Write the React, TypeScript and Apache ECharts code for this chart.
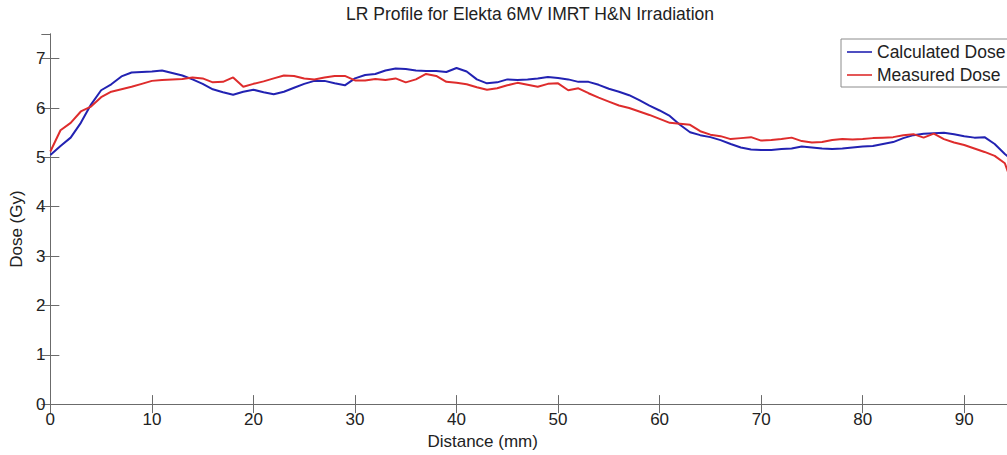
import React, { useEffect, useRef } from "react";
import * as echarts from "echarts";

const distanceMm = [
  0, 1, 2, 3, 4, 5, 6, 7, 8, 9, 10, 11, 12, 13, 14, 15, 16, 17, 18, 19, 20, 21, 22, 23, 24, 25, 26, 27, 28, 29,
  30, 31, 32, 33, 34, 35, 36, 37, 38, 39, 40, 41, 42, 43, 44, 45, 46, 47, 48, 49, 50, 51, 52, 53, 54, 55, 56, 57, 58, 59,
  60, 61, 62, 63, 64, 65, 66, 67, 68, 69, 70, 71, 72, 73, 74, 75, 76, 77, 78, 79, 80, 81, 82, 83, 84, 85, 86, 87, 88, 89,
  90, 91, 92, 93, 94, 95,
];

const calculatedDose = [
  5.05, 5.23, 5.4, 5.7, 6.07, 6.36, 6.48, 6.64, 6.72, 6.73, 6.74, 6.76, 6.71, 6.66, 6.58, 6.49, 6.38, 6.32, 6.27, 6.33,
  6.37, 6.32, 6.28, 6.33, 6.41, 6.49, 6.55, 6.55, 6.5, 6.46, 6.6, 6.67, 6.69, 6.76, 6.8, 6.79, 6.76, 6.75, 6.75, 6.73,
  6.81, 6.74, 6.58, 6.5, 6.52, 6.58, 6.57, 6.58, 6.6, 6.63, 6.61, 6.58, 6.53, 6.53, 6.47, 6.39, 6.33, 6.26, 6.16, 6.05,
  5.95, 5.84, 5.66, 5.51, 5.45, 5.41, 5.35, 5.27, 5.2, 5.16, 5.15, 5.15, 5.17, 5.18, 5.22, 5.2, 5.18, 5.17, 5.18, 5.2,
  5.22, 5.23, 5.27, 5.31, 5.39, 5.45, 5.48, 5.49, 5.5, 5.47, 5.43, 5.4, 5.41, 5.27, 5.07, 4.9,
];

const measuredDose = [
  5.12, 5.55, 5.7, 5.93, 6.03, 6.22, 6.33, 6.38, 6.43, 6.49, 6.55, 6.57, 6.58, 6.59, 6.62, 6.6, 6.52, 6.53, 6.62, 6.43,
  6.49, 6.54, 6.6, 6.66, 6.65, 6.6, 6.58, 6.62, 6.65, 6.65, 6.56, 6.56, 6.59, 6.57, 6.6, 6.52, 6.58, 6.69, 6.65, 6.53,
  6.51, 6.48, 6.42, 6.37, 6.4, 6.46, 6.51, 6.47, 6.43, 6.49, 6.5, 6.36, 6.4, 6.3, 6.21, 6.13, 6.05, 6.0, 5.93, 5.86,
  5.78, 5.7, 5.68, 5.66, 5.53, 5.46, 5.43, 5.37, 5.39, 5.41, 5.34, 5.35, 5.37, 5.4, 5.33, 5.3, 5.31, 5.35, 5.37, 5.36,
  5.37, 5.39, 5.4, 5.41, 5.45, 5.47, 5.4, 5.48, 5.37, 5.3, 5.25, 5.18, 5.11, 5.03, 4.88, 4.3,
];

const seriesNames = ["Calculated Dose", "Measured Dose"];
const seriesColors = ["#2222b2", "#de2c2c"];
const chartTitle = "LR Profile for Elekta 6MV IMRT H&N Irradiation";
const xAxisName = "Distance (mm)";
const yAxisName = "Dose (Gy)";

const FONT = "'Liberation Sans', Arial, Helvetica, sans-serif";
const AXIS_COLOR = "#6b6b6b";
const TEXT_COLOR = "#222222";

export default function App() {
  const ref = useRef<HTMLDivElement>(null);

  useEffect(() => {
    if (!ref.current) return;
    const chart = echarts.init(ref.current, null, { renderer: "svg" });
    const tickCommon = { show: true, inside: true, length: 9, lineStyle: { color: AXIS_COLOR, width: 1 } };
    chart.setOption({
      animation: false,
      backgroundColor: "#ffffff",
      textStyle: { fontFamily: FONT },
      title: {
        text: chartTitle,
        left: 530,
        top: 5,
        padding: 0,
        textAlign: "center",
        textStyle: { fontFamily: FONT, fontSize: 17.5, fontWeight: "normal", color: TEXT_COLOR },
      },
      legend: {
        data: seriesNames.map((n) => ({ name: n, icon: "rect" })),
        orient: "vertical",
        left: 841,
        top: 39,
        padding: [3, 20, 2, 6],
        itemWidth: 25,
        itemHeight: 1.6,
        itemGap: 3,
        borderColor: "#8c8c8c",
        borderWidth: 1,
        borderRadius: 0,
        backgroundColor: "#ffffff",
        textStyle: { fontFamily: FONT, fontSize: 17.5, lineHeight: 20, color: TEXT_COLOR },
      },
      grid: { left: 47, top: 34, right: 0, bottom: 45, containLabel: false },
      xAxis: [
        {
          type: "value",
          position: "bottom",
          min: 0,
          max: 95,
          interval: 10,
          name: xAxisName,
          nameLocation: "middle",
          nameGap: 17,
          nameTextStyle: { fontFamily: FONT, fontSize: 17, color: TEXT_COLOR, padding: [0, 100, 0, 0] },
          axisLine: { show: true, lineStyle: { color: AXIS_COLOR, width: 1 } },
          axisTick: tickCommon,
          axisLabel: { margin: 7, fontFamily: FONT, fontSize: 17, color: TEXT_COLOR, showMaxLabel: false },
          splitLine: { show: false },
        },
        {
          type: "value",
          position: "top",
          min: 0,
          max: 95,
          interval: 10,
          axisLine: { show: true, lineStyle: { color: AXIS_COLOR, width: 1 } },
          axisTick: tickCommon,
          axisLabel: { show: false },
          splitLine: { show: false },
        },
      ],
      yAxis: [
        {
          type: "value",
          position: "left",
          min: 0,
          max: 7.5,
          interval: 1,
          name: yAxisName,
          nameLocation: "middle",
          nameGap: 19,
          nameRotate: 90,
          nameTextStyle: { fontFamily: FONT, fontSize: 17, color: TEXT_COLOR, padding: [0, 20, 0, 0] },
          axisLine: { show: true, lineStyle: { color: AXIS_COLOR, width: 1 } },
          axisTick: tickCommon,
          axisLabel: { margin: 5, fontFamily: FONT, fontSize: 17, color: TEXT_COLOR, showMaxLabel: false },
          splitLine: { show: false },
        },
        {
          type: "value",
          position: "right",
          min: 0,
          max: 7.5,
          interval: 1,
          axisLine: { show: true, lineStyle: { color: AXIS_COLOR, width: 1 } },
          axisTick: tickCommon,
          axisLabel: { show: false },
          splitLine: { show: false },
        },
      ],
      series: [
        {
          name: seriesNames[0],
          type: "line",
          xAxisIndex: 0,
          yAxisIndex: 0,
          symbol: "none",
          showSymbol: false,
          clip: true,
          color: seriesColors[0],
          lineStyle: { color: seriesColors[0], width: 2 },
          data: distanceMm.map((x, i) => [x, calculatedDose[i]]),
        },
        {
          name: seriesNames[1],
          type: "line",
          xAxisIndex: 0,
          yAxisIndex: 0,
          symbol: "none",
          showSymbol: false,
          clip: true,
          color: seriesColors[1],
          lineStyle: { color: seriesColors[1], width: 2 },
          data: distanceMm.map((x, i) => [x, measuredDose[i]]),
        },
      ],
    });
    return () => chart.dispose();
  }, []);

  return (
    <div
      style={{ position: "absolute", left: 0, top: 0, width: 1007, height: 455, overflow: "hidden", background: "#fff" }}
    >
      <div ref={ref} style={{ width: 1015, height: 455 }} />
    </div>
  );
}
